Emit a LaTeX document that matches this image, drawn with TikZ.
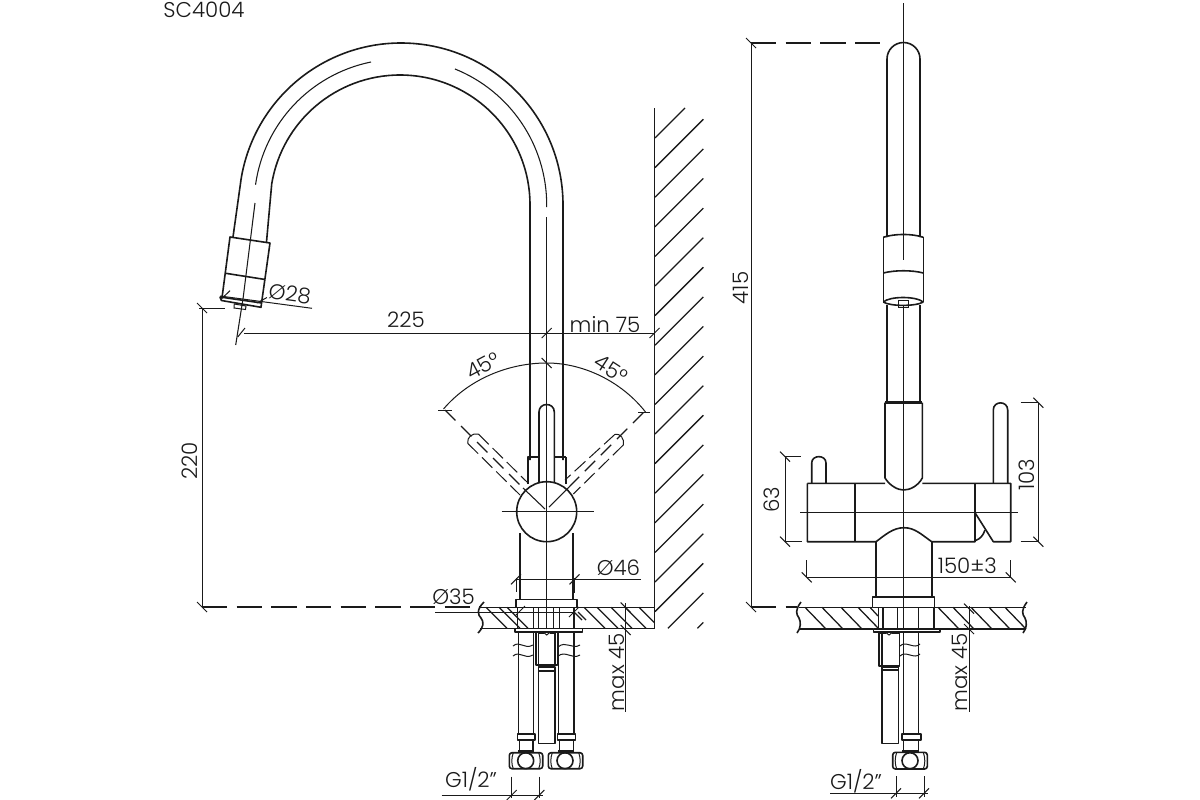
\documentclass[tikz,border=0pt]{standalone}
\usepackage{fontspec}
\setmainfont{Poppins Light}
\definecolor{ink}{HTML}{1A1A1A}
\tikzset{
  obj/.style={draw=ink,line width=1.2pt,line join=round},
  heavy/.style={draw=ink,line width=1.9pt},
  dimn/.style={draw=ink,line width=0.75pt},
  axisl/.style={draw=ink,line width=0.8pt},
  dashl/.style={draw=ink,line width=0.85pt,dash pattern=on 19pt off 7pt},
  hatchl/.style={draw=ink,line width=0.95pt},
  lab/.style={inner sep=0pt,text=ink,font=\fontsize{16}{16}\selectfont}
}
\newcommand{\tka}[2]{\draw[dimn] (#1,#2)+(-5,5) -- +(5,-5);}
\newcommand{\tkb}[2]{\draw[dimn] (#1,#2)+(-5,-5) -- +(5,5);}
\newcommand{\nut}[5]{% left right cx colllar-left collar-right
  \draw[obj,rounded corners=2pt] (#1,752.7) rectangle (#2,768.7);
  \draw[dimn] (#1+4,752.7) .. controls (#1+2,758) and (#1+2,764) .. (#1+4,768.7);
  \draw[dimn] (#2-4,752.7) .. controls (#2-2,758) and (#2-2,764) .. (#2-4,768.7);
  \draw[obj] (#3,760.7) circle[radius=8];
  \draw[obj] (#4,734) rectangle (#5,740);
  \draw[obj] (#4+2,740) -- (#4+2,751) (#5-2,740) -- (#5-2,751);
  \draw[heavy] (#4+1,751.5) -- (#5-1,751.5);
}
\begin{document}
\begin{tikzpicture}[x=0.75pt,y=-0.75pt]
\useasboundingbox (0,0) rectangle (1200,800);
\fill[white] (0,0) rectangle (1200,800);

\node[lab,anchor=center] (title) at (204,10) {SC4004};

%% ---- left view: spout
\draw[obj] (563,460) -- (563,205) arc[start angle=0,end angle=-170.7,radius=162] -- (233,237);
\draw[obj] (530,460) -- (530,205) arc[start angle=0,end angle=-170.7,radius=130] -- (266.5,242);
\draw[axisl] (546.7,207) -- (546.7,205) arc[start angle=0,end angle=-68,radius=146.7];
\draw[axisl] (371,62) arc[start angle=-101.5,end angle=-172,radius=146];
\draw[axisl] (546.7,217) -- (546.7,628);
\draw[axisl] (255,203) -- (243.3,296.7) -- (235.7,345);

%% nozzle
\draw[obj] (230,237) -- (270,243) -- (261.7,302) -- (261,307.3) -- (221.5,300.5) -- (220,297.3) -- (222,297.8) -- cycle;
\draw[obj] (225.7,273.3) -- (264,279.3);
\draw[obj] (220,297) -- (261.7,303);
\draw[dimn] (234.3,304) -- (246,306) -- (245.5,309.5) -- (234,308) -- cycle;

%% dia 28
\draw[dimn] (220,296) -- (312,308.3);
\draw[dimn] (230,290.7) -- (222,298.3);
\draw[dimn] (267,297.5) -- (257,303);
\node[lab,rotate=-8] (d28) at (290,294) {Ø28};

%% 225 and min 75
\draw[dimn] (244,333) -- (654.5,333);
\draw[dimn] (237.7,337) -- (245,328);
\tka{546.7}{333}
\tka{654.5}{333}
\node[lab] (l225) at (406,320) {225};
\node[lab] (lmin) at (605,325) {min 75};

%% 220
\draw[dimn] (202,308) -- (202,607);
\draw[dimn] (199,308) -- (225,308);
\tkb{202}{308}
\tkb{202}{607}
\node[lab,rotate=90] (l220) at (190,461) {220};
\draw[dashl] (202,607) -- (480,607);

%% wall
\draw[obj] (654.5,108) -- (654.5,628.3);
\foreach \k in {1,...,16}{
  \draw[hatchl] (655,138+29.6*\k) -- ++(48.3,-48.3);
}
\draw[hatchl] (655,138) -- (685,108);
\draw[hatchl] (667.9,628.3) -- (703.3,592.9);
\draw[hatchl] (697.5,628.3) -- (703.3,622.5);

%% counter left view
\draw[obj] (480,607.3) -- (516,607.3) (576.7,607.3) -- (654.5,607.3);
\draw[obj] (480,628.3) -- (515,628.3) (582,628.3) -- (654.5,628.3);
\draw[obj] (484,602) .. controls (476,610) and (478,615) .. (481,618) .. controls (484,622) and (484,627) .. (478,633);
\foreach \a in {486,499,507}{ \draw[hatchl] (\a,607.3) -- (\a+21,628.3); }
\foreach \a in {584,597,611,625,639}{ \draw[hatchl] (\a,607.3) -- ({min(\a+21,654.5)},{min(628.3,607.3+654.5-\a)}); }
\foreach \a in {574,578}{ \draw[hatchl] (\a,612) -- (\a+8,620); }

%% handle, collar
\draw[obj] (539,483) -- (539,412) .. controls (539,402) and (554.3,402) .. (554.3,412) -- (554.3,483);
\draw[obj] (530,456.7) -- (539,456.7) (554.3,456.7) -- (565.7,456.7);
\draw[obj] (527.7,484) -- (527.7,456.7) -- (530,456.7);
\draw[obj] (565.7,484) -- (565.7,456.7);
\draw[obj,fill=white] (546.7,511.7) circle[radius=30];
\draw[axisl] (501.7,511.7) -- (594,511.7);
\draw[axisl] (546.7,470) -- (546.7,628);

%% 45 degree arc and ghost levers
\draw[dimn] (443.5,409) .. controls (470,378) and (510,363) .. (546.7,363) .. controls (584,363) and (622,382) .. (645.5,412);
\tkb{546.7}{363}
\draw[dimn] (438,410.7) -- (451.7,410.7);
\draw[dimn] (638,412.7) -- (650,412.7);
\draw[dashl,dash pattern=on 11pt off 6pt] (445,410) -- (523,488);
\draw[dashl,dash pattern=on 11pt off 6pt] (643.3,412.7) -- (570,486);
\draw[axisl] (523,488) -- (545,509);
\draw[axisl] (570,486) -- (549,507);
\draw[dimn,dash pattern=on 11pt off 4pt] (478.3,434) -- (528.3,483.3);
\draw[dimn,dash pattern=on 11pt off 4pt] (467.7,443.3) -- (520,495);
\draw[dimn] (467.7,443.3) .. controls (467,437) and (472,433) .. (478.3,434);
\draw[dimn,dash pattern=on 11pt off 4pt] (615,434.3) -- (565,480);
\draw[dimn,dash pattern=on 11pt off 4pt] (623.3,445) -- (573.3,494);
\draw[dimn] (615,434.3) .. controls (620,433) and (625,439) .. (623.3,445);
\node[lab,rotate=28] (l45a) at (483,366) {45°};
\node[lab,rotate=-33] (l45b) at (611,369) {45°};

%% body
\draw[obj] (520,533) -- (520,599.3) (572.7,533) -- (572.7,599.3);
\draw[obj] (516,599.3) rectangle (576.7,607.3);
\draw[obj] (515,628.3) rectangle (582.5,631.7);
\draw[dimn] (517,612.7) -- (574.5,612.7);
\foreach \a in {517.3,533.3,538.3,553.3,559.3,574}{ \draw[obj] (\a,607.3) -- (\a,628.3); }

%% dia 46
\draw[dimn] (516,579.3) -- (640.7,579.3);
\draw[dimn] (516,578) -- (516,592) (574.5,578) -- (574.5,593);
\tka{516}{579.3}
\tka{574.5}{579.3}
\node[lab] (d46) at (618.5,568) {Ø46};

%% dia 35
\node[lab] (d35) at (453.5,597) {Ø35};
\draw[dimn] (435,612) -- (517,612);
\tka{520}{611}
\tka{574}{612}

%% supply pipes left view
\draw[obj] (518.3,632) -- (518.3,734) (533.3,632) -- (533.3,734);
\draw[obj] (558.3,632) -- (558.3,734) (574,632) -- (574,734);
\draw[dimn] (513,646) .. controls (520,640) and (524,650) .. (533,645);
\draw[dimn] (513,656) .. controls (520,650) and (524,660) .. (533,655);
\draw[dimn] (558,647) .. controls (566,640) and (572,650) .. (580,645);
\draw[dimn] (558,656) .. controls (566,650) and (572,660) .. (580,655);
\draw[obj] (536,632.7) -- (536,665) -- (557.3,665) -- (557.3,632.7);
\draw[obj] (538.3,632.7) -- (538.3,665) (555,632.7) -- (555,665);
\draw[heavy] (538,632.7) -- (544,632.7) (549.5,632.7) -- (555,632.7);
\draw[dimn] (544,632.7) -- (546.7,635) -- (549.5,632.7);
\draw[obj] (538.3,667) rectangle (555,743.3);
\draw[obj] (538.3,670.7) -- (555,670.7);
\nut{509.3}{542.7}{525.7}{517.3}{535}
\nut{548.3}{582.7}{565}{557.3}{575.3}

%% G1/2 left
\draw[dimn] (511.7,776.7) -- (511.7,798) (539.3,776.7) -- (539.3,798);
\draw[dimn] (441.7,795) -- (543,795);
\tka{511.7}{795}
\tka{539.3}{795}
\node[lab] (g1) at (471,779) {G1/2''};

%% max 45 left
\draw[dimn] (625.7,603) -- (625.7,711.7);
\tkb{625.7}{607.5}
\tkb{625.7}{630}
\node[lab,rotate=90] (m1) at (617,672) {max 45};

%% ---- right view
\draw[axisl] (903.5,3) -- (903.5,260);
\draw[axisl] (903.5,305) -- (903.5,630);
\draw[obj] (887,237) -- (887,59) arc[start angle=180,end angle=360,radius=16.5] -- (920,237);
\draw[obj] (883.3,237.3) -- (883.3,302);
\draw[obj] (923.3,237.3) -- (923.3,302);
\draw[obj] (883.3,237.3) .. controls (895,233.5) and (912,233.5) .. (923.3,237.3);
\draw[obj] (883.3,273) .. controls (895,270) and (912,270) .. (923.3,273);
\draw[obj] (883.3,302) .. controls (890,296) and (916,296) .. (923.3,302);
\draw[obj] (883.3,302) .. controls (890,306.5) and (916,306.5) .. (923.3,302);
\draw[dimn] (898.3,300) rectangle (908.3,307.3);
\draw[obj] (887,305) -- (887,402.7) (920,305) -- (920,402.7);
\draw[heavy] (885,402.7) -- (922.3,402.7);
\draw[obj] (885,402.7) -- (885,478) .. controls (890,486) and (898,490) .. (903.5,490) .. controls (910,490) and (918,486) .. (922.3,478) -- (922.3,402.7);
\draw[obj] (807.3,483.3) -- (885,483.3) (922.3,483.3) -- (1010.7,483.3) -- (1010.7,541.7) -- (993.3,541.7) -- (975,512.7);
\draw[obj] (807.3,483.3) -- (807.3,541.7) -- (876,541.7) .. controls (885,535) and (893,527.7) .. (904,527.7) .. controls (915,527.7) and (922,535) .. (931.7,541.7) -- (975,541.7) -- (975,512.7);
\draw[obj] (855,483.3) -- (855,541.7);
\draw[heavy] (975,483.3) -- (975,512.7);
\draw[obj] (975,540.7) .. controls (980,539) and (983,536) .. (985,530);
\draw[axisl] (800,512.7) -- (1018.3,512.7);
\draw[obj] (811.7,483.3) -- (811.7,463) .. controls (811.7,454.5) and (826,454.5) .. (826,463) -- (826,483.3);
\draw[obj] (993.3,483.3) -- (993.3,410) .. controls (993.3,400.5) and (1007.7,400.5) .. (1007.7,410) -- (1007.7,483.3);
\draw[obj] (876,541.7) -- (876,596.7) (931.7,541.7) -- (931.7,596.7);
\draw[obj] (872.3,596.7) rectangle (934.3,607.3);

%% counter right view
\draw[obj] (799,607.3) -- (872.3,607.3) (934.3,607.3) -- (1026,607.3);
\draw[obj] (799,629) -- (873.3,629) (940,629) -- (1026,629);
\draw[obj] (801,602) .. controls (795,610) and (796,614) .. (799,618) .. controls (801,622) and (801,628) .. (797,633);
\draw[obj] (1027,602) .. controls (1021,610) and (1022,614) .. (1025,618) .. controls (1027,622) and (1027,628) .. (1023,633);
\foreach \a in {805,822,841,858}{ \draw[hatchl] (\a,607.3) -- (\a+21,629); }
\draw[hatchl] (870,607.3) -- (878,616);
\foreach \a in {938,953,971,989,1005}{ \draw[hatchl] (\a,607.3) -- (\a+21,629); }
\draw[obj] (873.3,629) rectangle (940,631.7);
\foreach \a in {878.3,882.7,897.3,918.3,934}{ \draw[obj] (\a,607.3) -- (\a,629); }

%% under counter right view
\draw[obj] (879,632.7) -- (879,666) -- (899.3,666) -- (899.3,632.7);
\draw[obj] (881.7,632.7) -- (881.7,666);
\draw[heavy] (879,632.7) -- (886,632.7) (892,632.7) -- (899.3,632.7);
\draw[dimn] (886,632.7) -- (889,635) -- (892,632.7);
\draw[obj] (881.7,666.7) rectangle (898.3,743.3);
\draw[obj] (881.7,670) -- (898.3,670);
\draw[obj] (903.3,632) -- (903.3,734) (918.3,632) -- (918.3,734);
\draw[dimn] (900,646) .. controls (906,640) and (914,650) .. (920,644);
\draw[dimn] (900,656) .. controls (906,650) and (914,660) .. (920,654);
\draw[obj,rounded corners=2pt] (892.7,752.3) rectangle (927.3,769);
\draw[dimn] (896.7,752.3) .. controls (894.7,758) and (894.7,764) .. (896.7,769);
\draw[dimn] (923.3,752.3) .. controls (925.3,758) and (925.3,764) .. (923.3,769);
\draw[obj] (910,760.7) circle[radius=8];
\draw[obj] (901.7,734) rectangle (920.7,740);
\draw[obj] (903.3,740) -- (903.3,751) (918.3,740) -- (918.3,751);
\draw[heavy] (902,751.5) -- (919,751.5);

%% dims right view
\draw[dimn] (751,43) -- (751,607);
\tkb{751}{43}
\tkb{751}{607}
\draw[dashl] (751,43) -- (886,43);
\draw[dashl] (751,607) -- (797,607);
\node[lab,rotate=90] (l415) at (741,288) {415};
\draw[dimn] (785,456.7) -- (785,541.7);
\draw[dimn] (785,456.7) -- (800.7,456.7) (785,541.7) -- (801.7,541.7);
\tkb{785}{456.7}
\tkb{785}{541.7}
\node[lab,rotate=90] (l63) at (772,500) {63};
\draw[dimn] (1038.3,402.7) -- (1038.3,541.7);
\draw[dimn] (1020.7,402.7) -- (1038.3,402.7) (1020.7,541.7) -- (1038.3,541.7);
\tkb{1038.3}{402.7}
\tkb{1038.3}{541.7}
\node[lab,rotate=90] (l103) at (1027,475) {103};
\draw[dimn] (806.7,577.3) -- (1010.7,577.3);
\draw[dimn] (806.7,560) -- (806.7,577.3) (1010.7,560) -- (1010.7,577.3);
\tkb{806.7}{577.3}
\tkb{1010.7}{577.3}
\node[lab] (l150) at (967.3,566) {150±3};
\draw[dimn] (969,606) -- (969,711.7);
\tkb{969}{608.7}
\tkb{969}{629}
\node[lab,rotate=90] (m2) at (960,672.7) {max 45};
\draw[dimn] (896,776) -- (896,797) (924,776) -- (924,797);
\draw[dimn] (830,793.3) -- (928,793.3);
\tka{896}{793.3}
\tka{924}{793.3}
\node[lab] (g2) at (856,781.7) {G1/2''};
\end{tikzpicture}
\end{document}
